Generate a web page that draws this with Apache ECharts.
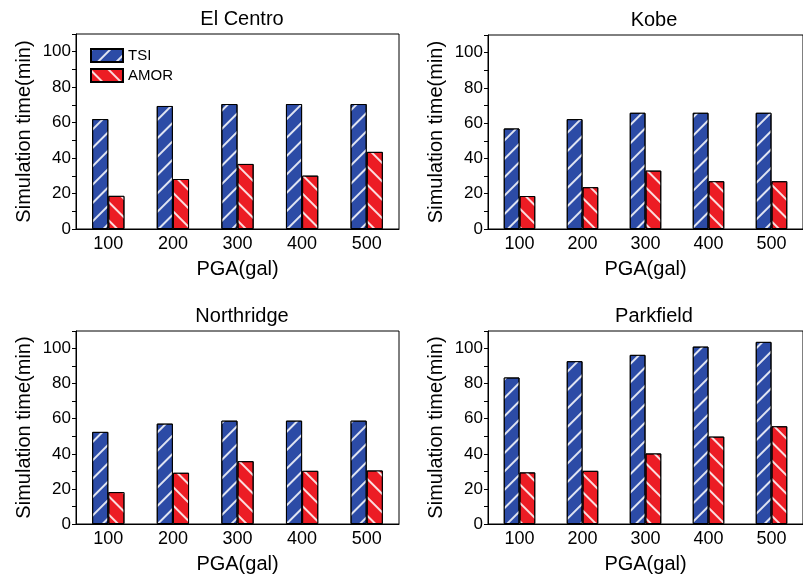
<!DOCTYPE html>
<html>
<head>
<meta charset="utf-8">
<script src="https://cdn.jsdelivr.net/npm/echarts@6/dist/echarts.min.js"></script>
<style>
  html, body { margin: 0; padding: 0; background: #fff; }
  #chart { width: 803px; height: 579px; }
</style>
</head>
<body>
<div id="chart"></div>
<script>
// categories (PGA in gal)
const pga = ['100', '200', '300', '400', '500']
const panelTitles = ['El Centro', 'Kobe', 'Northridge', 'Parkfield']

// simulation time (min)
const elCentroTSI = [62, 69.4, 70.5, 70.5, 70.5]
const elCentroAMOR = [18.7, 28.2, 36.7, 30.1, 43.5]
const kobeTSI = [57, 62.3, 65.9, 65.9, 65.9]
const kobeAMOR = [18.7, 23.7, 33.1, 27.1, 27.1]
const northridgeTSI = [52.5, 57.2, 58.9, 58.9, 58.9]
const northridgeAMOR = [18.2, 29.2, 35.8, 30.3, 30.5]
const parkfieldTSI = [83.5, 92.8, 96.4, 101.1, 103.8]
const parkfieldAMOR = [29.4, 30.3, 40.2, 49.8, 55.7]

const tsiData = [elCentroTSI, kobeTSI, northridgeTSI, parkfieldTSI]
const amorData = [elCentroAMOR, kobeAMOR, northridgeAMOR, parkfieldAMOR]

const font = 'Liberation Sans, Arial, sans-serif'
const colors = {
  tsi: '#2C4BA6',
  amor: '#EC1C24'
}

// panel boxes (px)
const boxes = [
  { left: 76, top: 34, width: 323, height: 195 },
  { left: 488, top: 35, width: 323, height: 194 },
  { left: 76, top: 331, width: 323, height: 193 },
  { left: 488, top: 331, width: 323, height: 193 }
]

const hatch = (rot) => ({
  symbol: 'rect',
  symbolSize: 1,
  dashArrayX: [1, 0],
  dashArrayY: [1.4, 11],
  rotation: rot,
  color: 'rgba(255,255,255,0.85)'
})

const chart = echarts.init(document.getElementById('chart'))

const grid = boxes.map(b => ({
  ...b,
  show: true,
  borderColor: '#000',
  borderWidth: 1,
  backgroundColor: 'transparent'
}))

const title = boxes.map((b, i) => ({
  text: panelTitles[i],
  left: b.left + 161,
  top: b.top - 30,
  textAlign: 'center',
  textStyle: { fontFamily: font, fontSize: 20, fontWeight: 'normal', color: '#000' }
}))

const xAxis = boxes.map((b, i) => ({
  type: 'category',
  gridIndex: i,
  data: pga,
  name: 'PGA(gal)',
  nameLocation: 'middle',
  nameGap: 30,
  nameTextStyle: { fontFamily: font, fontSize: 20, color: '#000' },
  axisLine: { lineStyle: { color: '#000', width: 1 } },
  axisTick: { show: false },
  axisLabel: { fontFamily: font, fontSize: 18, color: '#000', margin: 6 }
}))

const yAxis = boxes.map((b, i) => ({
  type: 'value',
  gridIndex: i,
  min: 0,
  max: 110,
  interval: 10,
  name: 'Simulation time(min)',
  nameLocation: 'middle',
  nameGap: 42,
  nameTextStyle: { fontFamily: font, fontSize: 20, color: '#000' },
  axisLine: { show: true, lineStyle: { color: '#000', width: 1 } },
  axisTick: { show: true, length: 4, lineStyle: { color: '#000' } },
  splitLine: { show: false },
  axisLabel: {
    fontFamily: font, fontSize: 17, color: '#000', margin: 5,
    formatter: v => (v % 20 === 0 && v <= 100 ? String(v) : '')
  }
}))

const series = []
boxes.forEach((b, i) => {
  series.push({
    name: 'TSI',
    type: 'bar',
    xAxisIndex: i,
    yAxisIndex: i,
    barGap: '0%',
    barCategoryGap: '50%',
    data: tsiData[i],
    itemStyle: { color: colors.tsi, borderColor: '#000', borderWidth: 1, decal: hatch(-Math.PI / 4) }
  })
  series.push({
    name: 'AMOR',
    type: 'bar',
    xAxisIndex: i,
    yAxisIndex: i,
    barGap: '0%',
    barCategoryGap: '50%',
    data: amorData[i],
    itemStyle: { color: colors.amor, borderColor: '#000', borderWidth: 1, decal: hatch(Math.PI / 4) }
  })
})

const option = {
  animation: false,
  backgroundColor: '#fff',
  title,
  grid,
  xAxis,
  yAxis,
  legend: {
    data: ['TSI', 'AMOR'],
    orient: 'vertical',
    icon: 'rect',
    left: 85,
    top: 43,
    itemWidth: 32,
    itemHeight: 13,
    itemGap: 5,
    textStyle: { fontFamily: font, fontSize: 15, color: '#000' }
  },
  series
}

chart.setOption(option)
</script>
</body>
</html>
